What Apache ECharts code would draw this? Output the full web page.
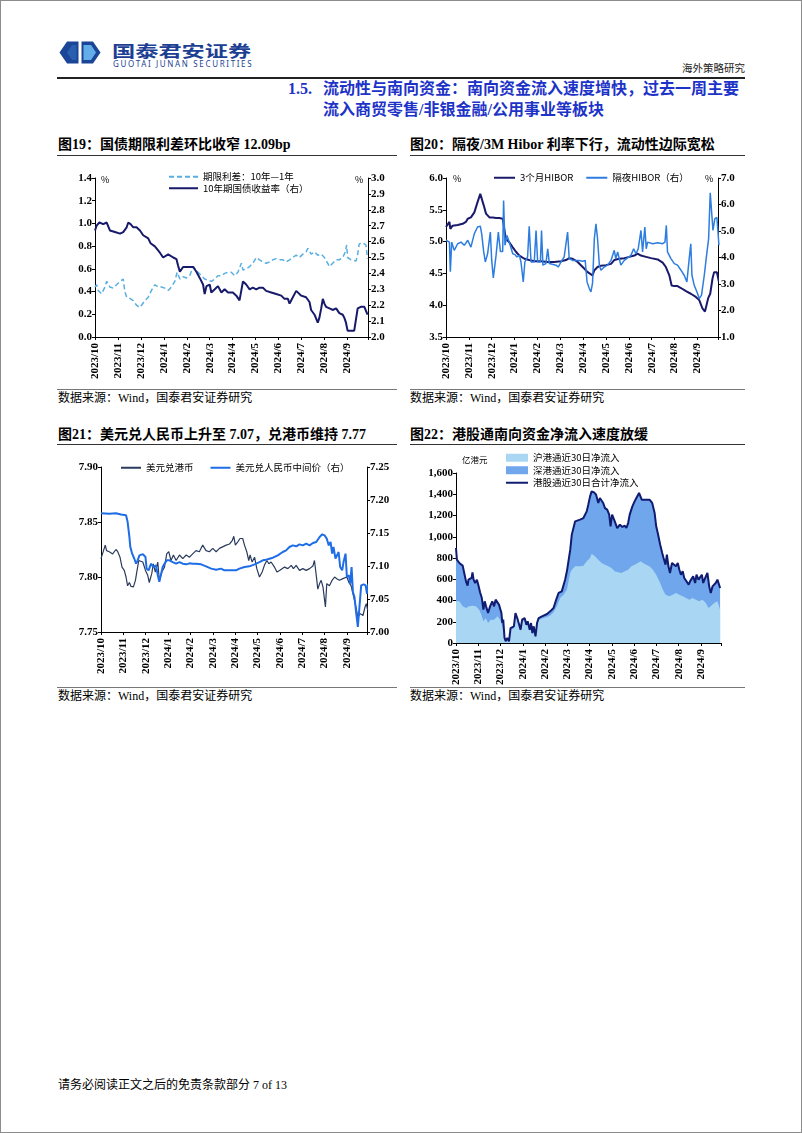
<!DOCTYPE html>
<html><head><meta charset="utf-8">
<script src="https://cdn.jsdelivr.net/npm/echarts@6/dist/echarts.min.js"></script>
<style>
html,body{margin:0;padding:0;background:#fff;}
#page{position:relative;width:802px;height:1133px;overflow:hidden;font-family:"Liberation Serif","Noto Sans CJK SC",serif;color:#000;}
#frame{position:absolute;left:0;top:0;width:800px;height:1131px;border:1px solid #8c8c8c;}
#chart{position:absolute;left:0;top:0;width:802px;height:1133px;}
.t{position:absolute;white-space:nowrap;line-height:1;}
.hl{position:absolute;height:1px;background:#444;}
.ct{font-size:14px;font-weight:bold;}
.src{font-size:12px;}
.pc{font-size:9px;font-family:"Noto Sans CJK SC",sans-serif;}
</style></head>
<body>
<div id="page">
<div id="frame"></div>
<svg style="position:absolute;left:0;top:0" width="802" height="90">
  <polygon points="78.5,41.5 67,41.5 59.5,52.5 67,63.5 78.5,63.5" fill="#1b4596"/>
  <polygon points="81.5,41.5 93,41.5 100.5,52.5 93,63.5 81.5,63.5" fill="#1b4596"/>
  <polygon points="83.5,45 91,45 96,52.5 91,60 83.5,60" fill="#63aee8"/>
  <polygon points="76.5,45 72,45 67,52.5 72,60 76.5,60" fill="#2a5fb0"/>
</svg>
<div class="t" style="left:112px;top:42px;font-size:16px;font-weight:bold;font-family:'Noto Sans CJK SC',sans-serif;color:#1d3f93;transform:scaleX(1.45);transform-origin:left top;">国泰君安证券</div>
<div class="t" style="left:113px;top:60px;font-size:8px;font-family:'Noto Sans',sans-serif;letter-spacing:1.65px;color:#1d3f93;">GUOTAI JUNAN SECURITIES</div>
<div class="t" style="right:57px;top:63px;font-size:10.5px;font-family:'Noto Sans CJK SC',sans-serif;color:#222;">海外策略研究</div>
<div class="hl" style="left:57px;top:77px;width:688px;height:1.5px;background:#222;"></div>
<div class="t" style="left:288px;top:81px;font-size:16px;font-weight:bold;color:#1d33c8;">1.5.</div>
<div class="t" style="left:323px;top:81px;font-size:16px;font-weight:bold;color:#1d33c8;">流动性与南向资金：南向资金流入速度增快，过去一周主要</div>
<div class="t" style="left:323px;top:102px;font-size:16px;font-weight:bold;color:#1d33c8;">流入商贸零售/非银金融/公用事业等板块</div>

<div class="t ct" style="left:58px;top:138px;">图19：国债期限利差环比收窄 12.09bp</div>
<div class="hl" style="left:57px;top:155px;width:340px;background:#333;"></div>
<div class="t ct" style="left:410px;top:138px;">图20：隔夜/3M Hibor 利率下行，流动性边际宽松</div>
<div class="hl" style="left:410px;top:155px;width:335px;background:#333;"></div>
<div class="hl" style="left:57px;top:389px;width:340px;background:#777;"></div>
<div class="t src" style="left:58px;top:392px;">数据来源：Wind，国泰君安证券研究</div>
<div class="hl" style="left:410px;top:389px;width:335px;background:#777;"></div>
<div class="t src" style="left:410px;top:392px;">数据来源：Wind，国泰君安证券研究</div>

<div class="t ct" style="left:58px;top:428px;">图21：美元兑人民币上升至 7.07，兑港币维持 7.77</div>
<div class="hl" style="left:57px;top:444px;width:340px;background:#333;"></div>
<div class="t ct" style="left:410px;top:428px;">图22：港股通南向资金净流入速度放缓</div>
<div class="hl" style="left:410px;top:444px;width:335px;background:#333;"></div>
<div class="hl" style="left:57px;top:687px;width:340px;background:#777;"></div>
<div class="t src" style="left:58px;top:690px;">数据来源：Wind，国泰君安证券研究</div>
<div class="hl" style="left:410px;top:687px;width:335px;background:#777;"></div>
<div class="t src" style="left:410px;top:690px;">数据来源：Wind，国泰君安证券研究</div>

<div class="t" style="left:58px;top:1079px;font-size:12px;">请务必阅读正文之后的免责条款部分 7 of 13</div>

<div id="chart"></div>
<div class="t pc" style="left:101px;top:175px;">%</div>
<div class="t pc" style="left:355px;top:175px;">%</div>
<div class="t pc" style="left:453px;top:174px;">%</div>
<div class="t pc" style="left:705px;top:174px;">%</div>
<div class="t pc" style="left:462px;top:455px;font-size:8.5px;">亿港元</div>
</div>
<script>
// x values are months since 2023/10/01 (0 = 2023/10, 1 = 2023/11, ...)
const monthLabels = ['2023/10','2023/11','2023/12','2024/1','2024/2','2024/3','2024/4','2024/5','2024/6','2024/7','2024/8','2024/9'];

// Fig 19
const termSpread = [[0,0.44],[0.07,0.46],[0.14,0.41],[0.29,0.38],[0.43,0.44],[0.51,0.49],[0.65,0.44],[0.8,0.43],[0.94,0.46],[1.09,0.49],[1.23,0.51],[1.3,0.40],[1.38,0.35],[1.52,0.34],[1.67,0.32],[1.81,0.28],[1.93,0.26],[2.03,0.28],[2.17,0.32],[2.32,0.35],[2.46,0.41],[2.61,0.46],[2.75,0.44],[2.9,0.44],[3.04,0.43],[3.19,0.41],[3.33,0.44],[3.48,0.49],[3.58,0.57],[3.7,0.51],[3.84,0.53],[3.99,0.52],[4.13,0.54],[4.28,0.62],[4.35,0.63],[4.49,0.57],[4.64,0.54],[4.78,0.51],[4.93,0.50],[5.07,0.49],[5.22,0.51],[5.36,0.54],[5.51,0.54],[5.65,0.56],[5.8,0.57],[5.94,0.57],[6.09,0.54],[6.23,0.57],[6.38,0.65],[6.45,0.59],[6.59,0.60],[6.74,0.62],[6.88,0.65],[7.03,0.70],[7.17,0.68],[7.32,0.66],[7.46,0.65],[7.61,0.66],[7.75,0.68],[7.9,0.69],[8.04,0.68],[8.19,0.68],[8.33,0.66],[8.48,0.68],[8.62,0.70],[8.77,0.72],[8.91,0.70],[9.06,0.73],[9.2,0.75],[9.28,0.78],[9.42,0.73],[9.57,0.75],[9.71,0.72],[9.86,0.73],[10,0.70],[10.14,0.65],[10.22,0.62],[10.36,0.65],[10.51,0.68],[10.65,0.68],[10.8,0.70],[10.91,0.75],[10.97,0.81],[11.01,0.70],[11.16,0.68],[11.38,0.67],[11.45,0.73],[11.52,0.82],[11.67,0.83],[11.81,0.81],[11.88,0.69]];
const cgb10y = [[0,2.67],[0.07,2.70],[0.19,2.72],[0.36,2.71],[0.51,2.72],[0.65,2.67],[0.87,2.66],[1.09,2.65],[1.23,2.66],[1.38,2.69],[1.45,2.72],[1.55,2.71],[1.67,2.69],[1.81,2.69],[1.96,2.67],[2.1,2.64],[2.32,2.62],[2.42,2.59],[2.61,2.57],[2.83,2.53],[2.97,2.50],[3.19,2.52],[3.41,2.50],[3.55,2.49],[3.62,2.45],[3.7,2.41],[3.84,2.44],[4.28,2.44],[4.42,2.41],[4.57,2.37],[4.71,2.33],[4.78,2.27],[4.86,2.32],[5.0,2.33],[5.07,2.28],[5.22,2.30],[5.36,2.32],[5.51,2.28],[5.65,2.30],[5.8,2.28],[6.01,2.28],[6.16,2.26],[6.3,2.23],[6.38,2.24],[6.45,2.35],[6.59,2.33],[6.74,2.30],[6.88,2.31],[7.03,2.30],[7.17,2.31],[7.32,2.31],[7.46,2.29],[7.68,2.28],[7.9,2.27],[8.12,2.26],[8.26,2.24],[8.41,2.24],[8.48,2.21],[8.55,2.23],[8.77,2.29],[8.84,2.28],[8.99,2.26],[9.2,2.25],[9.35,2.22],[9.42,2.17],[9.57,2.14],[9.71,2.09],[9.78,2.12],[9.86,2.18],[9.93,2.24],[10.0,2.21],[10.07,2.19],[10.22,2.18],[10.36,2.17],[10.51,2.18],[10.65,2.15],[10.8,2.14],[10.87,2.12],[10.94,2.09],[11.01,2.04],[11.09,2.03],[11.3,2.04],[11.38,2.05],[11.45,2.18],[11.59,2.19],[11.74,2.19],[11.81,2.18],[11.88,2.14]];

// Fig 20
const hibor3m = [[0,5.23],[0.07,5.25],[0.15,5.31],[0.19,5.20],[0.29,5.25],[0.51,5.26],[0.73,5.28],[0.87,5.31],[0.95,5.36],[1.09,5.38],[1.24,5.46],[1.38,5.62],[1.5,5.75],[1.56,5.75],[1.65,5.57],[1.75,5.44],[1.9,5.38],[2.04,5.38],[2.19,5.37],[2.33,5.37],[2.48,5.36],[2.55,5.36],[2.62,5.04],[2.77,4.99],[2.92,4.91],[3.06,4.84],[3.21,4.78],[3.43,4.73],[3.64,4.71],[3.86,4.69],[4.15,4.69],[4.45,4.68],[4.74,4.68],[5.03,4.69],[5.25,4.71],[5.39,4.74],[5.54,4.73],[5.76,4.68],[5.98,4.60],[6.2,4.52],[6.41,4.47],[6.49,4.55],[6.63,4.60],[6.78,4.62],[7.0,4.63],[7.22,4.65],[7.36,4.71],[7.58,4.73],[7.8,4.74],[8.02,4.76],[8.24,4.78],[8.38,4.81],[8.53,4.78],[8.75,4.76],[8.97,4.74],[9.26,4.72],[9.48,4.67],[9.62,4.60],[9.77,4.47],[9.87,4.31],[9.99,4.30],[10.13,4.30],[10.28,4.27],[10.5,4.22],[10.71,4.18],[10.93,4.13],[11.08,4.08],[11.22,3.95],[11.33,3.90],[11.41,3.92],[11.47,4.11],[11.56,4.18],[11.66,4.42],[11.73,4.52],[11.85,4.52],[11.94,4.37]];
const hiborON = [[0,4.65],[0.15,4.58],[0.19,3.46],[0.25,4.58],[0.36,4.27],[0.51,4.52],[0.66,4.58],[0.8,4.46],[0.95,4.65],[1.09,4.39],[1.24,4.90],[1.38,5.15],[1.5,5.18],[1.56,4.90],[1.65,4.21],[1.72,3.83],[1.82,4.14],[1.94,4.96],[2.0,3.89],[2.07,3.23],[2.19,4.08],[2.29,4.96],[2.38,4.23],[2.48,4.23],[2.52,6.15],[2.58,4.46],[2.67,4.83],[2.74,4.90],[2.81,4.46],[2.92,4.14],[3.02,4.11],[3.1,4.02],[3.21,4.08],[3.28,3.83],[3.38,3.08],[3.45,3.83],[3.57,4.02],[3.64,5.18],[3.72,3.83],[3.86,3.83],[3.94,5.02],[4.01,3.83],[4.13,3.83],[4.18,5.02],[4.24,3.71],[4.37,3.77],[4.45,4.33],[4.52,3.77],[4.81,3.71],[4.91,3.64],[5.03,3.83],[5.17,4.02],[5.32,4.96],[5.39,3.96],[5.54,3.89],[5.83,3.89],[5.98,3.86],[6.09,3.89],[6.17,3.08],[6.27,2.83],[6.34,2.70],[6.41,3.02],[6.49,4.71],[6.56,5.27],[6.63,4.71],[6.71,3.71],[6.78,3.52],[6.92,3.64],[7.07,3.71],[7.22,3.89],[7.36,4.27],[7.43,3.96],[7.51,4.21],[7.65,3.71],[7.8,3.89],[8.09,4.08],[8.21,4.33],[8.31,4.14],[8.41,4.33],[8.53,5.02],[8.6,4.21],[8.7,5.15],[8.76,4.33],[8.82,4.58],[9.04,4.52],[9.26,4.56],[9.48,4.52],[9.58,4.58],[9.64,5.21],[9.69,4.21],[9.84,3.96],[9.99,3.77],[10.13,3.71],[10.28,3.52],[10.42,3.33],[10.54,3.08],[10.64,3.96],[10.71,4.52],[10.76,3.33],[10.86,2.95],[10.98,2.70],[11.08,2.45],[11.18,2.58],[11.3,3.33],[11.4,4.08],[11.49,4.71],[11.56,6.44],[11.62,6.44],[11.68,5.02],[11.76,5.46],[11.85,5.52],[11.9,4.96],[11.94,4.46]];

// Fig 21
const usdhkd = [[0,7.8167],[0.07,7.818],[0.19,7.829],[0.25,7.824],[0.37,7.823],[0.52,7.821],[0.67,7.825],[0.75,7.823],[0.85,7.818],[0.94,7.809],[1.04,7.806],[1.12,7.800],[1.19,7.792],[1.27,7.795],[1.34,7.7915],[1.45,7.791],[1.54,7.797],[1.6,7.8045],[1.69,7.815],[1.76,7.8167],[1.87,7.8136],[1.99,7.806],[2.09,7.8015],[2.16,7.795],[2.27,7.803],[2.34,7.812],[2.43,7.8045],[2.54,7.8136],[2.61,7.797],[2.72,7.8045],[2.84,7.809],[2.94,7.821],[3.03,7.823],[3.13,7.815],[3.24,7.820],[3.36,7.815],[3.51,7.820],[3.66,7.8167],[3.81,7.820],[3.96,7.818],[4.1,7.821],[4.25,7.824],[4.4,7.823],[4.55,7.829],[4.7,7.824],[4.85,7.823],[5.0,7.826],[5.15,7.823],[5.3,7.826],[5.6,7.829],[5.75,7.830],[5.87,7.833],[5.94,7.837],[6.01,7.829],[6.12,7.832],[6.22,7.835],[6.34,7.835],[6.42,7.829],[6.52,7.823],[6.61,7.815],[6.67,7.820],[6.76,7.8136],[6.87,7.818],[6.97,7.8076],[7.09,7.800],[7.21,7.8045],[7.31,7.8106],[7.42,7.815],[7.51,7.812],[7.61,7.8136],[7.76,7.809],[7.87,7.8045],[7.99,7.806],[8.1,7.8076],[8.21,7.809],[8.36,7.8076],[8.51,7.8106],[8.61,7.8076],[8.73,7.8106],[8.88,7.806],[9.03,7.8076],[9.18,7.806],[9.33,7.8076],[9.48,7.810],[9.55,7.815],[9.63,7.8015],[9.7,7.789],[9.78,7.794],[9.85,7.797],[9.93,7.791],[10.0,7.792],[10.04,7.7727],[10.1,7.794],[10.22,7.792],[10.34,7.797],[10.45,7.800],[10.55,7.7985],[10.67,7.797],[10.82,7.7985],[11.0,7.800],[11.09,7.795],[11.19,7.792],[11.27,7.7848],[11.34,7.7788],[11.42,7.7712],[11.49,7.7636],[11.6,7.7667],[11.72,7.765],[11.81,7.7727],[11.87,7.7758],[11.93,7.7697]];
const usdcny = [[0,7.180],[0.37,7.179],[0.67,7.180],[0.9,7.178],[1.12,7.177],[1.19,7.167],[1.27,7.144],[1.31,7.129],[1.39,7.119],[1.49,7.111],[1.57,7.1035],[1.64,7.1086],[1.72,7.116],[1.87,7.118],[1.99,7.1136],[2.04,7.096],[2.13,7.0934],[2.24,7.1035],[2.34,7.0985],[2.46,7.101],[2.54,7.086],[2.61,7.076],[2.69,7.077],[2.76,7.0985],[2.84,7.1035],[2.94,7.1086],[3.06,7.1086],[3.21,7.106],[3.36,7.1035],[3.51,7.106],[3.66,7.1035],[3.81,7.1025],[3.96,7.104],[4.1,7.1035],[4.25,7.1035],[4.48,7.1025],[4.7,7.0995],[4.93,7.096],[5.15,7.0944],[5.37,7.096],[5.52,7.0934],[5.75,7.0934],[6.04,7.0934],[6.19,7.096],[6.42,7.0985],[6.64,7.0995],[6.87,7.1025],[7.09,7.106],[7.24,7.1086],[7.39,7.1096],[7.54,7.1111],[7.69,7.1126],[7.91,7.1162],[8.13,7.1212],[8.28,7.1237],[8.43,7.1288],[8.58,7.1313],[8.73,7.1298],[8.88,7.1328],[9.03,7.1313],[9.18,7.1338],[9.33,7.1313],[9.48,7.1348],[9.63,7.1364],[9.78,7.144],[9.9,7.148],[10.0,7.1465],[10.1,7.1414],[10.19,7.1313],[10.27,7.1364],[10.34,7.1187],[10.4,7.1288],[10.49,7.1111],[10.55,7.1086],[10.63,7.1212],[10.7,7.0985],[10.79,7.0934],[10.85,7.106],[10.94,7.1187],[11.0,7.0833],[11.09,7.0859],[11.15,7.0732],[11.21,7.0985],[11.27,7.0606],[11.34,7.053],[11.42,7.0278],[11.49,7.0076],[11.57,7.0066],[11.64,7.0707],[11.75,7.0722],[11.84,7.0707],[11.9,7.058],[11.96,7.0732]];

// Fig 22 (亿港元)
const flowTotal = [[0,894],[0.04,784],[0.15,753],[0.3,728],[0.37,659],[0.45,580],[0.52,540],[0.56,596],[0.64,580],[0.7,612],[0.74,665],[0.79,596],[0.86,565],[0.94,596],[1.0,549],[1.08,477],[1.16,423],[1.23,314],[1.29,392],[1.35,345],[1.44,282],[1.53,345],[1.63,392],[1.71,345],[1.78,408],[1.86,423],[1.93,361],[2.04,282],[2.08,188],[2.12,220],[2.18,47],[2.23,16],[2.3,47],[2.38,16],[2.45,141],[2.53,125],[2.6,157],[2.67,282],[2.75,235],[2.82,251],[2.9,125],[2.97,220],[3.08,235],[3.16,173],[3.22,204],[3.31,125],[3.37,188],[3.43,94],[3.49,157],[3.57,63],[3.64,188],[3.71,235],[3.79,220],[3.86,251],[3.94,257],[4.09,273],[4.23,298],[4.31,282],[4.38,329],[4.5,408],[4.61,471],[4.68,455],[4.75,486],[4.83,471],[4.9,596],[4.98,675],[5.05,659],[5.13,878],[5.2,1020],[5.27,1035],[5.35,1145],[5.42,1161],[5.57,1161],[5.72,1176],[5.79,1192],[5.87,1239],[5.94,1302],[6.02,1380],[6.09,1427],[6.2,1418],[6.29,1396],[6.39,1318],[6.46,1365],[6.54,1349],[6.61,1318],[6.69,1270],[6.79,1255],[6.88,1208],[6.94,1098],[7.01,1208],[7.06,1192],[7.13,1145],[7.24,1082],[7.36,1114],[7.47,1092],[7.58,1104],[7.65,1082],[7.73,1129],[7.8,1208],[7.92,1286],[8.02,1333],[8.1,1365],[8.22,1412],[8.28,1427],[8.34,1349],[8.42,1349],[8.54,1349],[8.69,1349],[8.81,1318],[8.92,1223],[8.99,1098],[9.06,1035],[9.17,925],[9.26,847],[9.32,800],[9.41,737],[9.47,831],[9.54,722],[9.61,659],[9.7,753],[9.76,737],[9.88,722],[9.96,753],[10.03,690],[10.1,643],[10.18,675],[10.25,612],[10.33,596],[10.45,549],[10.51,580],[10.59,596],[10.65,627],[10.74,565],[10.8,643],[10.89,596],[10.95,612],[11.04,643],[11.1,565],[11.19,612],[11.29,659],[11.37,533],[11.44,471],[11.52,533],[11.59,549],[11.66,565],[11.74,596],[11.81,580],[11.86,518]];
const flowSH = [[0,392],[0.15,392],[0.3,345],[0.45,329],[0.59,345],[0.74,351],[0.89,345],[1.04,314],[1.14,267],[1.23,204],[1.34,235],[1.44,188],[1.56,220],[1.71,220],[1.86,251],[1.98,220],[2.08,157],[2.18,31],[2.3,31],[2.38,10],[2.45,125],[2.53,110],[2.6,140],[2.67,255],[2.75,215],[2.82,230],[2.9,110],[2.97,200],[3.08,215],[3.16,155],[3.22,185],[3.31,110],[3.37,170],[3.43,80],[3.49,140],[3.57,50],[3.64,170],[3.71,215],[3.79,200],[3.86,230],[3.94,235],[4.09,245],[4.23,260],[4.31,255],[4.38,290],[4.53,345],[4.68,423],[4.83,455],[4.98,502],[5.13,659],[5.2,690],[5.35,722],[5.57,722],[5.72,728],[5.87,769],[6.02,800],[6.09,841],[6.24,816],[6.39,784],[6.54,753],[6.69,737],[6.84,722],[6.98,706],[7.13,675],[7.28,665],[7.43,659],[7.58,675],[7.73,690],[7.88,722],[8.02,737],[8.17,753],[8.28,769],[8.4,753],[8.54,737],[8.69,722],[8.84,690],[8.99,643],[9.14,580],[9.29,502],[9.41,455],[9.58,439],[9.73,455],[9.88,471],[10.03,455],[10.18,439],[10.33,423],[10.48,408],[10.62,423],[10.77,408],[10.92,392],[11.07,408],[11.22,376],[11.34,329],[11.44,345],[11.59,376],[11.74,392],[11.86,314]];

const XMAX = 11.9;
const SERIF = '"Liberation Serif","Noto Sans CJK SC",serif';
const CJK = '"Noto Sans CJK SC",sans-serif';

function xAxis(gi){
  return {type:'value', gridIndex:gi, min:0, max:XMAX, interval:1,
    axisLine:{show:true, onZero:false, lineStyle:{color:'#000', width:1}},
    axisTick:{show:true, length:3, lineStyle:{color:'#000'}},
    splitLine:{show:false},
    axisLabel:{rotate:90, margin:6, fontSize:11, fontWeight:'bold', color:'#000', fontFamily:SERIF,
      formatter:function(v){ return Number.isInteger(v) ? (monthLabels[v] || '') : ''; }}};
}
function yAxis(gi, pos, min, max, interval, fmt){
  return {type:'value', gridIndex:gi, position:pos, min:min, max:max, interval:interval,
    axisLine:{show:true, onZero:false, lineStyle:{color:'#000', width:1}},
    axisTick:{show:true, length:3, lineStyle:{color:'#000'}},
    splitLine:{show:false},
    axisLabel:{margin:3, fontSize:11, fontWeight:'bold', color:'#000', fontFamily:SERIF, formatter:fmt}};
}
const f1 = v => v.toFixed(1), f2 = v => v.toFixed(2), fc = v => Math.round(v).toLocaleString('en-US');
function line(name, xi, yi, data, color, width, type){
  return {type:'line', name:name, xAxisIndex:xi, yAxisIndex:yi, data:data, symbol:'none', showSymbol:false,
    color:color, lineStyle:{color:color, width:width, type:type || 'solid'}, itemStyle:{color:color}, z:3};
}
const legText = {fontSize:9.5, fontFamily:CJK, color:'#000'};
const noSym = {opacity:0};

const option = {
  animation:false,
  grid:[
    {left:95, top:178, width:273, height:159, outerBoundsMode:'none'},
    {left:446, top:178, width:272, height:159, outerBoundsMode:'none'},
    {left:101, top:467, width:266, height:165, outerBoundsMode:'none'},
    {left:456, top:473, width:265, height:170, outerBoundsMode:'none'}
  ],
  xAxis:[xAxis(0), xAxis(1), xAxis(2), xAxis(3)],
  yAxis:[
    yAxis(0,'left',0,1.4,0.2,f1), yAxis(0,'right',2.0,3.0,0.1,f1),
    yAxis(1,'left',3.5,6.0,0.5,f1), yAxis(1,'right',1.0,7.0,1.0,f1),
    yAxis(2,'left',7.75,7.90,0.05,f2), yAxis(2,'right',7.00,7.25,0.05,f2),
    yAxis(3,'left',0,1600,200,fc)
  ],
  legend:[
    {orient:'vertical', left:168, top:172, itemWidth:29, itemHeight:10, itemGap:2, padding:0, textStyle:legText, itemStyle:noSym,
      data:['期限利差：10年—1年','10年期国债收益率（右）']},
    {left:493, top:173, itemWidth:21, itemHeight:10, itemGap:12, padding:0, textStyle:legText, itemStyle:noSym,
      data:['3个月HIBOR','隔夜HIBOR（右）']},
    {left:120, top:463, itemWidth:20, itemHeight:10, itemGap:16, padding:0, textStyle:legText, itemStyle:noSym,
      data:['美元兑港币','美元兑人民币中间价（右）']},
    {orient:'vertical', left:505, top:453, itemWidth:22, itemHeight:8, itemGap:3, padding:0, textStyle:legText,
      data:[{name:'沪港通近30日净流入', icon:'rect'},{name:'深港通近30日净流入', icon:'rect'},{name:'港股通近30日合计净流入', itemStyle:noSym}]}
  ],
  series:[
    line('期限利差：10年—1年',0,0,termSpread,'#5aafe1',1.5,[5,3]),
    line('10年期国债收益率（右）',0,1,cgb10y,'#17196a',2),
    line('3个月HIBOR',1,2,hibor3m,'#1a1a6c',2),
    line('隔夜HIBOR（右）',1,3,hiborON,'#2d7de0',1.5),
    line('美元兑港币',2,4,usdhkd,'#2b3b5e',1.2),
    line('美元兑人民币中间价（右）',2,5,usdcny,'#1e6de6',2),
    Object.assign(line('深港通近30日净流入',3,6,flowTotal,'#6fa6ec',0), {areaStyle:{color:'#6fa6ec', opacity:1}, z:1}),
    Object.assign(line('沪港通近30日净流入',3,6,flowSH,'#a9d7f3',0), {areaStyle:{color:'#a9d7f3', opacity:1}, z:2}),
    line('港股通近30日合计净流入',3,6,flowTotal,'#101c72',2)
  ]
};
const chart = echarts.init(document.getElementById('chart'), null, {renderer:'canvas'});
chart.setOption(option);
</script>
</body></html>
